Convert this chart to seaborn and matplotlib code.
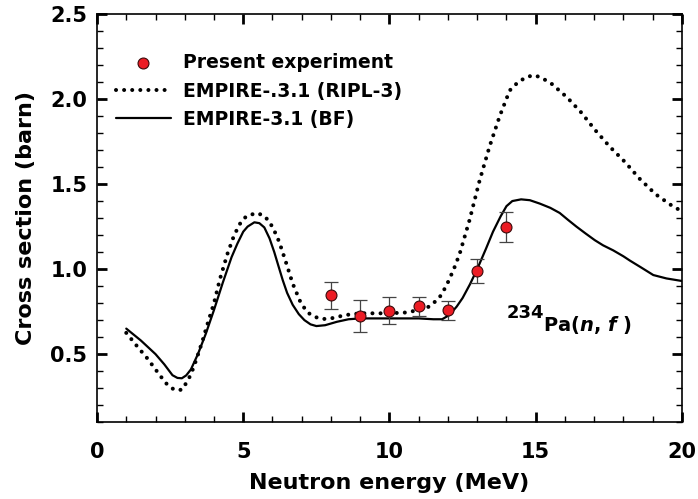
import matplotlib
matplotlib.use("Agg")
import matplotlib.pyplot as plt
import seaborn as sns
import pandas as pd
from matplotlib.ticker import MultipleLocator

# Measured 234Pa(n,f) cross sections
energy_exp = [8, 9, 10, 11, 12, 13, 14]
sigma_exp = [0.847, 0.724, 0.755, 0.782, 0.759, 0.988, 1.249]
sigma_err = [0.080, 0.094, 0.080, 0.055, 0.056, 0.070, 0.088]

# EMPIRE-3.1 with RIPL-3 fission barriers
energy_ripl = [1.0, 1.4, 1.72, 2.0, 2.35, 2.64, 2.9, 3.05, 3.21, 3.4, 3.61, 3.8,
               4.0, 4.2, 4.46, 4.69, 4.9, 5.1, 5.45, 5.7, 5.89, 6.05, 6.23, 6.46,
               6.69, 6.97, 7.2, 7.43, 7.7, 8.0, 8.5, 9.0, 10.0, 10.6, 11.0, 11.37,
               11.7, 11.94, 12.2, 12.4, 12.74, 13.08, 13.42, 13.77, 14.11, 14.4,
               14.7, 14.95, 15.2, 15.54, 16.07, 16.56, 17.02, 17.53, 18.05, 18.56,
               19.1, 19.68, 20.0]
sigma_ripl = [0.625, 0.54, 0.475, 0.41, 0.33, 0.29, 0.29, 0.33, 0.38, 0.47, 0.58, 0.69,
              0.80, 0.94, 1.09, 1.20, 1.27, 1.31, 1.33, 1.315, 1.28, 1.23, 1.16, 1.04,
              0.915, 0.80, 0.745, 0.72, 0.706, 0.71, 0.73, 0.74, 0.74, 0.745, 0.76, 0.78,
              0.83, 0.90, 1.00, 1.09, 1.29, 1.52, 1.72, 1.90, 2.05, 2.10,
              2.13, 2.14, 2.125, 2.09, 2.01, 1.92, 1.82, 1.72, 1.63, 1.53,
              1.44, 1.37, 1.34]

# EMPIRE-3.1 with adjusted (BF) fission barriers
energy_bf = [1.0, 1.5, 2.0, 2.3, 2.58, 2.75, 2.9, 3.05, 3.21, 3.45, 3.72, 4.0,
             4.3, 4.6, 4.8, 5.0, 5.15, 5.38, 5.55, 5.72, 5.9, 6.06, 6.2, 6.35,
             6.5, 6.69, 6.9, 7.09, 7.3, 7.5, 7.8, 8.2, 8.6, 9.0, 10.0, 11.0,
             11.5, 11.8, 12.05, 12.3, 12.5, 12.75, 13.0, 13.3, 13.54, 13.8, 14.0,
             14.2, 14.5, 14.8, 15.14, 15.5, 15.82, 16.1, 16.39, 16.7, 17.02, 17.3,
             17.65, 18.0, 18.22, 18.6, 19.02, 19.47, 20.0]
sigma_bf = [0.65, 0.58, 0.50, 0.44, 0.376, 0.36, 0.358, 0.375, 0.41, 0.50, 0.62, 0.76,
            0.92, 1.07, 1.15, 1.22, 1.25, 1.275, 1.27, 1.245, 1.18, 1.10, 1.02, 0.935,
            0.86, 0.79, 0.735, 0.70, 0.675, 0.665, 0.67, 0.69, 0.705, 0.71, 0.71, 0.71,
            0.705, 0.705, 0.73, 0.78, 0.83, 0.91, 1.00, 1.12, 1.22, 1.31, 1.37,
            1.40, 1.41, 1.405, 1.385, 1.36, 1.33, 1.29, 1.25, 1.21, 1.17, 1.14,
            1.11, 1.075, 1.05, 1.01, 0.965, 0.945, 0.93]

sns.set_style("ticks")
plt.rcParams["font.family"] = ["DejaVu Sans"]
plt.rcParams["font.weight"] = "bold"
plt.rcParams["text.color"] = "black"
plt.rcParams["axes.labelcolor"] = "black"
plt.rcParams["xtick.color"] = "black"
plt.rcParams["ytick.color"] = "black"
plt.rcParams["mathtext.fontset"] = "custom"
plt.rcParams["mathtext.rm"] = "DejaVu Sans:bold"
plt.rcParams["mathtext.bf"] = "DejaVu Sans:bold"
plt.rcParams["mathtext.it"] = "DejaVu Sans:italic:bold"

fig = plt.figure(figsize=(6.98, 4.99), dpi=100)
ax = fig.add_axes([0.139, 0.154, 0.838, 0.818])

df_ripl = pd.DataFrame({"E": energy_ripl, "sigma": sigma_ripl})
df_bf = pd.DataFrame({"E": energy_bf, "sigma": sigma_bf})
df_exp = pd.DataFrame({"E": energy_exp, "sigma": sigma_exp, "err": sigma_err})

ax.errorbar(df_exp["E"], df_exp["sigma"], yerr=df_exp["err"], fmt="none",
            ecolor="#444444", elinewidth=0.9, capsize=5, capthick=0.9, zorder=3)
sns.scatterplot(data=df_exp, x="E", y="sigma", ax=ax, color="#ec1c24",
                edgecolor="#3a0a0a", linewidth=0.8, s=62, zorder=4,
                label="Present experiment")
sns.lineplot(data=df_ripl, x="E", y="sigma", ax=ax, color="black", lw=2.9,
             dashes=False, label="EMPIRE-.3.1 (RIPL-3)", zorder=2)
ax.lines[-1].set_linestyle((0, (0.01, 2.0)))
ax.lines[-1].set_dash_capstyle("round")
sns.lineplot(data=df_bf, x="E", y="sigma", ax=ax, color="black", lw=1.6,
             label="EMPIRE-3.1 (BF)", zorder=2)

ax.set_xlim(0, 20)
ax.set_ylim(0.1, 2.5)
ax.xaxis.set_major_locator(MultipleLocator(5))
ax.xaxis.set_minor_locator(MultipleLocator(1))
ax.yaxis.set_major_locator(MultipleLocator(0.5))
ax.yaxis.set_minor_locator(MultipleLocator(0.1))
ax.set_yticks([0.5, 1.0, 1.5, 2.0, 2.5])
ax.tick_params(which="both", direction="in", top=True, right=True, color="black",
               labelcolor="black")
ax.tick_params(which="major", length=7, width=2.0, labelsize=15)
ax.tick_params(axis="x", which="major", pad=14)
ax.tick_params(axis="y", which="major", pad=7)
ax.tick_params(which="minor", length=4, width=1.0)
for lab in ax.get_xticklabels() + ax.get_yticklabels():
    lab.set_fontweight("bold")
for sp in ax.spines.values():
    sp.set_linewidth(1.2)
    sp.set_color("black")

ax.set_xlabel("Neutron energy (MeV)", fontsize=16, fontweight="bold", labelpad=8)
ax.set_ylabel("Cross section (barn)", fontsize=16, fontweight="bold", labelpad=10)

# Reaction label: raised mass number, then the reaction
ax.text(14.0, 0.715, "234", fontsize=13, fontweight="bold", ha="left", va="baseline")
ax.text(15.24, 0.637, r"Pa($\mathit{n}$, $\mathit{f}$ )", fontsize=14,
        fontweight="bold", ha="left", va="baseline")

handles, labels = ax.get_legend_handles_labels()
leg = ax.legend(handles, labels, loc="upper left", bbox_to_anchor=(0.02, 0.922),
                frameon=False, fontsize=13.5, handlelength=2.9, handletextpad=0.65,
                labelspacing=0.5, borderaxespad=0.0)
for t in leg.get_texts():
    t.set_fontweight("bold")
    t.set_color("black")

fig.savefig("out.png", dpi=100)
